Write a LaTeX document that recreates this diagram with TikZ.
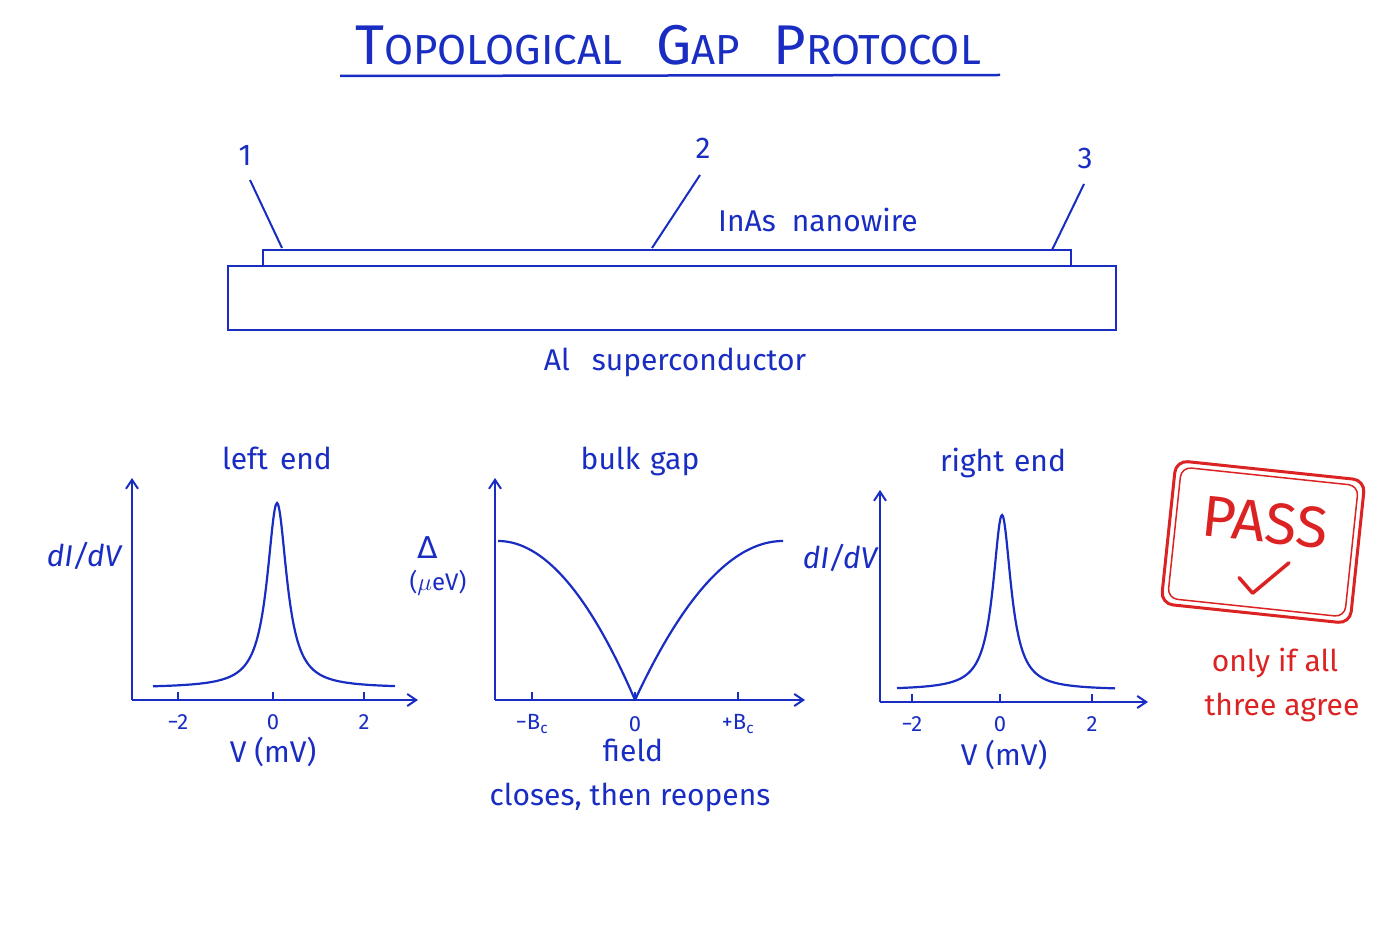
\documentclass[tikz,border=0pt]{standalone}
\usepackage{fontspec}
\usetikzlibrary{arrows.meta}
\setmainfont{Fira Sans}
\newfontfamily\symf{DejaVu Sans}
\definecolor{ink}{RGB}{25,45,195}
\definecolor{stamp}{RGB}{220,35,35}
\begin{document}
\begin{tikzpicture}[x=1pt,y=-1pt,line width=2pt,
  lbl/.style={text=ink,font=\fontsize{30}{32}\selectfont,inner sep=0pt},
  tick/.style={text=ink,font=\fontsize{22}{24}\selectfont,inner sep=0pt},
  ax/.style={draw=ink,line width=2pt,-{Straight Barb[length=9pt,width=12pt]}},
  crv/.style={draw=ink,line width=2.2pt},
  red/.style={text=stamp,font=\fontsize{30}{32}\selectfont,inner sep=0pt}]
\fill[white] (0,0) rectangle (1400,933);
\useasboundingbox (0,0) rectangle (1400,933);
% title
\newcommand{\SC}[2]{{\fontsize{56}{56}\selectfont #1}{\fontsize{42}{44}\selectfont #2}}
\node[text=ink,inner sep=0pt] (title) at (668,45) {\SC{T}{OPOLOGICAL}\hspace{34pt}\SC{G}{AP}\hspace{34pt}\SC{P}{ROTOCOL}};
\coordinate (u1) at (340,76); \coordinate (u2) at (1000,75);
\draw[ink,line width=2.5pt] (u1) -- (u2);
% device
\draw[ink] (228,266) rectangle (1116,330);
\draw[ink] (263,250) rectangle (1071,266);
\node[lbl] (n1) at (245,155) {1};
\node[lbl] (n2) at (703,148) {2};
\node[lbl] (n3) at (1085,158) {3};
\coordinate (c1) at (282,248); \coordinate (c2) at (652,248); \coordinate (c3) at (1052,250);
\draw[ink] (250,180) -- (c1);
\draw[ink] (700,175) -- (c2);
\draw[ink] (1084,184) -- (c3);
\node[lbl] (wire) at (818,220) {InAs\hspace{16pt}nanowire};
\node[lbl] (al) at (675,362) {Al\hspace{22pt}superconductor};
% left plot
\draw[ax] (132,700) -- (132,478);
\draw[ax] (132,700) -- (418,700);
\draw[crv] plot[domain=153:395,samples=200,smooth] (\x,{688-185/(((\x-277)/12)^2+1)});
\foreach \x/\t in {178/{−2},273/0,364/2}{\draw[ink] (\x,700)--(\x,692); \node[tick] at (\x,722) {\t};}
\node[lbl] (vl) at (273,752) {V (mV)};
\node[lbl] (dl) at (84,556) {\itshape dI/dV};
\node[lbl] (tl) at (277,458) {left\hspace{12pt}end};
% middle plot
\draw[ax] (495,700) -- (495,478);
\draw[ax] (495,700) -- (805,700);
\draw[crv] plot[domain=498:635,samples=100,smooth] (\x,{700-159*(1-((\x-498)/137)^2)});
\draw[crv] plot[domain=635:783,samples=100,smooth] (\x,{700-159*(1-((783-\x)/148)^2)});
\foreach \x/\t in {532/{−B$_\mathrm{c}$},635/0,738/{+B$_\mathrm{c}$}}{\draw[ink] (\x,700)--(\x,692); \node[tick] at (\x,724) {\t};}
\node[lbl] (fl) at (633,750) {field};
\node[lbl] (cr) at (630,797) {closes,\hspace{8pt}then\hspace{8pt}reopens};
\node[lbl] (dd) at (428,548) {\symf Δ};
\node[lbl] (mu) at (438,583) {\fontsize{24}{26}\selectfont($\mu$eV)};
\node[lbl] (bg) at (640,461) {bulk\hspace{10pt}gap};
% right plot
\draw[ax] (880,702) -- (880,490);
\draw[ax] (880,702) -- (1148,702);
\draw[crv] plot[domain=897:1115,samples=200,smooth] (\x,{690-175/(((\x-1002)/11)^2+1)});
\foreach \x/\t in {912/{−2},1000/0,1092/2}{\draw[ink] (\x,702)--(\x,694); \node[tick] at (\x,724) {\t};}
\node[lbl] (vr) at (1004,755) {V (mV)};
\node[lbl] (dr) at (840,558) {\itshape dI/dV};
\node[lbl] (tr) at (1003,463) {right\hspace{10pt}end};
% stamp
\begin{scope}[shift={(1263,542)},rotate=-6]
\draw[stamp,line width=3pt,rounded corners=12pt] (-95,-72) rectangle (95,72);
\draw[stamp,line width=1.5pt,rounded corners=10pt] (-89,-66) rectangle (89,66);
\node[text=stamp,inner sep=0pt,transform shape,font=\fontsize{58}{58}\selectfont] (pass) at (0,-20) {PASS};
\draw[stamp,line width=3.5pt,line cap=round,line join=round] (-20,38) -- (-5,52) -- (28,18);
\end{scope}
\node[red] (o1t) at (1275,663) {only\hspace{8pt}if\hspace{8pt}all};
\node[red] (o2t) at (1282,707) {three\hspace{8pt}agree};
\end{tikzpicture}
\end{document}
